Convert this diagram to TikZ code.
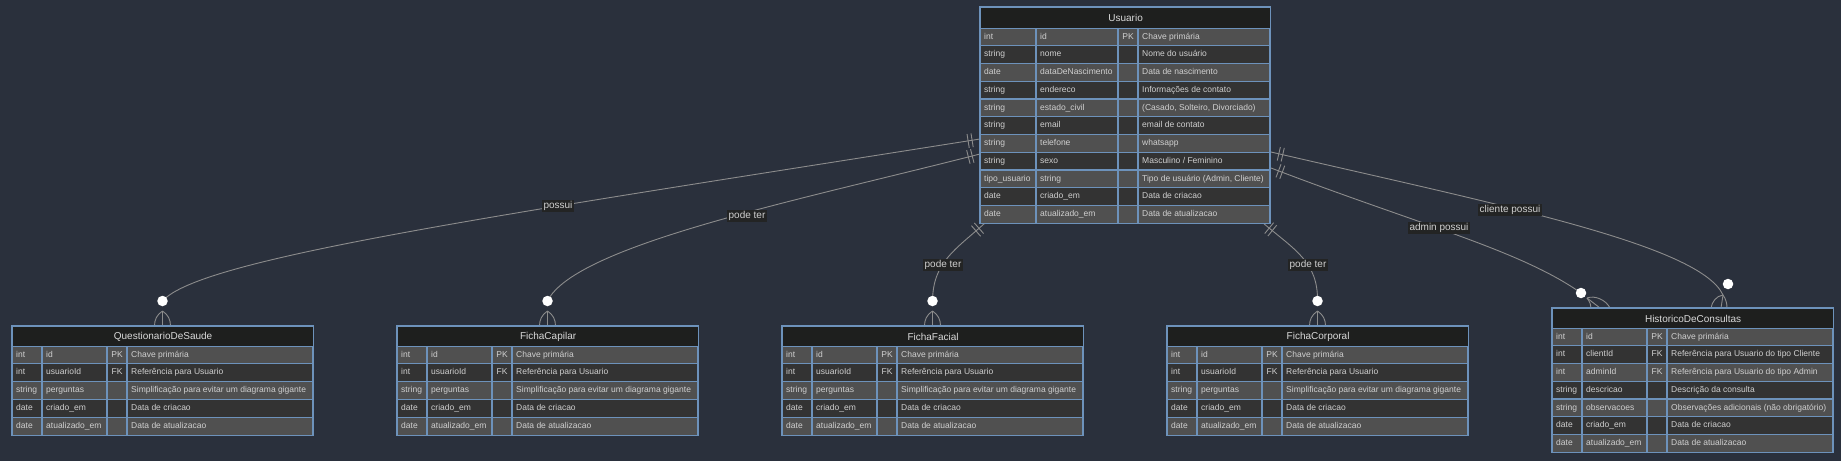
\documentclass[tikz,border=0pt]{standalone}
\usepackage{fontspec}
\setmainfont{Liberation Sans}
\usetikzlibrary{decorations.markings,calc}
\definecolor{cBg}{HTML}{2A303C}
\definecolor{cBorder}{HTML}{6D92BB}
\definecolor{cTitle}{HTML}{1E1F1E}
\definecolor{cRowL}{HTML}{505050}
\definecolor{cRowD}{HTML}{333333}
\definecolor{cTxt}{HTML}{D0D0D0}
\definecolor{cTitleTxt}{HTML}{DADADA}
\definecolor{cLink}{HTML}{8C8C8C}
\definecolor{cLblBg}{HTML}{232424}
\tikzset{
  tbltitlestyle/.style={draw=cBorder, line width=1.2pt, fill=cTitle, text=cTitleTxt,
    font=\fontsize{10}{12}\selectfont, inner sep=0pt, anchor=north west},
  celltxt/.style={text=cTxt, font=\fontsize{8.5}{10}\selectfont, inner sep=0pt, anchor=west,
    text height=6.2pt, text depth=1.8pt},
  keytxt/.style={celltxt, anchor=center},
  gridline/.style={draw=cBorder, line width=1.2pt},
  linkline/.style={draw=cLink, line width=0.9pt},
  hashends/.style={postaction={decorate}, decoration={markings,
      mark=at position 8pt with {\draw[cLink, line width=0.9pt] (0,-7pt) -- (0,7pt);},
      mark=at position 12pt with {\draw[cLink, line width=0.9pt] (0,-7pt) -- (0,7pt);}}},
  relbl/.style={fill=cLblBg, text=cTxt, font=\fontsize{10}{12}\selectfont, inner sep=1.3pt},
  optcircle/.style={circle, fill=white, inner sep=0pt, minimum size=10.5pt},
}
% #1 name, #2 x, #3 y, #4 title, #5 rows, #6 number of rows
\newcommand\ertbl[6]{%
  \begin{scope}[shift={(#2,#3)}]
    \pgfmathsetmacro\tw{\cwA+\cwB+\cwC+\cwD}
    \pgfmathsetmacro\xB{\cwA}
    \pgfmathsetmacro\xC{\cwA+\cwB}
    \pgfmathsetmacro\xD{\cwA+\cwB+\cwC}
    \pgfmathsetmacro\tbot{\thh+#6*\rhh}
    \foreach \ta/\tb/\tc/\td [count=\i from 0] in {#5} {
      \pgfmathsetmacro\yy{\thh+\i*\rhh}
      \pgfmathtruncatemacro\rp{mod(\i,2)}
      \ifnum\rp=0 \def\rc{cRowL}\else\def\rc{cRowD}\fi
      \fill[fill=\rc] (0,\yy) rectangle (\tw,\yy+\rhh);
      \node[celltxt] (#1-\i-1) at (4,\yy+\rhh/2) {\ta};
      \node[celltxt] (#1-\i-2) at (\xB+4,\yy+\rhh/2) {\tb};
      \node[keytxt] (#1-\i-3) at (\xC+\cwC/2,\yy+\rhh/2) {\tc};
      \node[celltxt] (#1-\i-4) at (\xD+4,\yy+\rhh/2) {\td};
    }
    \foreach \k in {1,...,#6} {
      \draw[gridline] (0,\thh+\k*\rhh) -- (\tw,\thh+\k*\rhh);
    }
    \draw[gridline] (\xB,\thh) -- (\xB,\tbot);
    \draw[gridline] (\xC,\thh) -- (\xC,\tbot);
    \draw[gridline] (\xD,\thh) -- (\xD,\tbot);
    \draw[gridline] (0,0) rectangle (\tw,\tbot);
    \node[tbltitlestyle, minimum width=\tw pt, minimum height=\thh pt] (#1) at (0,0) {#4};
  \end{scope}
}
\newcommand\crowdown[1]{%
  \draw[linkline] (#1,311) .. controls (#1-6,315) and (#1-8,320) .. (#1-8,326);
  \draw[linkline] (#1,311) -- (#1,326);
  \draw[linkline] (#1,311) .. controls (#1+6,315) and (#1+8,320) .. (#1+8,326);
}
\begin{document}
\begin{tikzpicture}[x=1pt,y=-1pt]
\fill[cBg] (0,0) rectangle (1841,461);
\useasboundingbox (0,0) rectangle (1841,461);

% connection points
\coordinate (uL1) at (980,139);
\coordinate (uL2) at (980,154);
\coordinate (uB1) at (985,223);
\coordinate (uB2) at (1263,223);
\coordinate (uR1) at (1271,152);
\coordinate (uR2) at (1271,168);
\coordinate (kApex) at (1723,295);
\coordinate (aApex) at (1587,298);
\coordinate (oQ) at (162.5,301);
\coordinate (oC) at (547.5,301);
\coordinate (oF) at (932.5,301);
\coordinate (oP) at (1317.5,301);
\coordinate (oA) at (1581,293);
\coordinate (oK) at (1728,284);

% connectors
\draw[linkline, hashends] (uL1) .. controls (500,215) and (200,258) .. (oQ);
\draw[linkline, hashends] (uL2) .. controls (800,200) and (575,245) .. (oC);
\draw[linkline, hashends] (uB1) .. controls (955,250) and (933,262) .. (oF);
\draw[linkline, hashends] (uB2) .. controls (1295,250) and (1318,262) .. (oP);
\draw[linkline, hashends] (uR2) .. controls (1420,225) and (1520,250) .. (oA);
\draw[linkline, hashends] (uR1) .. controls (1500,205) and (1700,245) .. (kApex);

% optional-end circles
\node[optcircle] (cQ) at (oQ) {};
\node[optcircle] (cC) at (oC) {};
\node[optcircle] (cF) at (oF) {};
\node[optcircle] (cP) at (oP) {};
\node[optcircle] (cA) at (oA) {};
\node[optcircle] (cK) at (oK) {};

% crow's feet
\crowdown{162.5}
\crowdown{547.5}
\crowdown{932.5}
\crowdown{1317.5}
\draw[linkline] (aApex) .. controls (1590,302) and (1591,305) .. (1591,308);
\draw[linkline] (aApex) -- (1600,308);
\draw[linkline] (aApex) .. controls (1595,295) and (1606,300) .. (1610,308);
\draw[linkline] (kApex) .. controls (1716,296) and (1712,302) .. (1711,308);
\draw[linkline] (kApex) -- (1721,308);
\draw[linkline] (kApex) .. controls (1726,299) and (1727,304) .. (1727,308);

% labels
\node[relbl] (l1) at (558,206) {possui};
\node[relbl] (l2) at (747,216) {pode ter};
\node[relbl] (l3) at (943,265) {pode ter};
\node[relbl] (l4) at (1308,265) {pode ter};
\node[relbl] (l5) at (1439,228) {admin possui};
\node[relbl] (l6) at (1510,210) {cliente possui};

% tables
\def\cwA{56}\def\cwB{82}\def\cwC{20}\def\cwD{132}\def\thh{21}\def\rhh{17.75}
\ertbl{usuario}{980}{7}{Usuario}{%
int/id/PK/Chave primária,
string/nome//Nome do usuário,
date/dataDeNascimento//Data de nascimento,
string/endereco//Informações de contato,
string/estado\_civil//{(Casado, Solteiro, Divorciado)},
string/email//email de contato,
string/telefone//whatsapp,
string/sexo//{Masculino / Feminino},
tipo\_usuario/string//{Tipo de usuário (Admin, Cliente)},
date/criado\_em//Data de criacao,
date/atualizado\_em//Data de atualizacao}{11}

\def\cwA{30}\def\cwB{65}\def\cwC{20}\def\cwD{186}\def\thh{20}\def\rhh{17.85}
\ertbl{questionario}{12}{326}{QuestionarioDeSaude}{%
int/id/PK/Chave primária,
int/usuarioId/FK/Referência para Usuario,
string/perguntas//Simplificação para evitar um diagrama gigante,
date/criado\_em//Data de criacao,
date/atualizado\_em//Data de atualizacao}{5}
\ertbl{capilar}{397}{326}{FichaCapilar}{%
int/id/PK/Chave primária,
int/usuarioId/FK/Referência para Usuario,
string/perguntas//Simplificação para evitar um diagrama gigante,
date/criado\_em//Data de criacao,
date/atualizado\_em//Data de atualizacao}{5}
\ertbl{facial}{782}{326}{FichaFacial}{%
int/id/PK/Chave primária,
int/usuarioId/FK/Referência para Usuario,
string/perguntas//Simplificação para evitar um diagrama gigante,
date/criado\_em//Data de criacao,
date/atualizado\_em//Data de atualizacao}{5}
\ertbl{corporal}{1167}{326}{FichaCorporal}{%
int/id/PK/Chave primária,
int/usuarioId/FK/Referência para Usuario,
string/perguntas//Simplificação para evitar um diagrama gigante,
date/criado\_em//Data de criacao,
date/atualizado\_em//Data de atualizacao}{5}

\def\cwA{30}\def\cwB{65}\def\cwC{20}\def\cwD{166}\def\thh{20}\def\rhh{17.77}
\ertbl{historico}{1552}{308}{HistoricoDeConsultas}{%
int/id/PK/Chave primária,
int/clientId/FK/Referência para Usuario do tipo Cliente,
int/adminId/FK/Referência para Usuario do tipo Admin,
string/descricao//Descrição da consulta,
string/observacoes//Observações adicionais (não obrigatório),
date/criado\_em//Data de criacao,
date/atualizado\_em//Data de atualizacao}{7}
\end{tikzpicture}
\end{document}
